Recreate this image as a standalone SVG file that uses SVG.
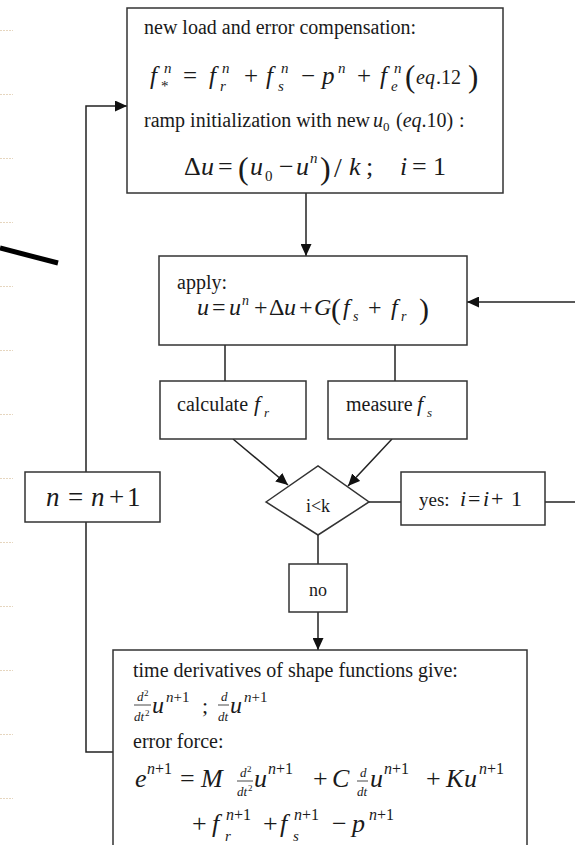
<svg xmlns="http://www.w3.org/2000/svg" width="575" height="845" viewBox="0 0 575 845">
<defs>
<style>
.box{fill:#fff;stroke:#333;stroke-width:1.5}
.c{fill:none;stroke:#222;stroke-width:1.5}
.t{font-family:"Liberation Serif","Times New Roman",serif;fill:#1a1a1a}
.i{font-style:italic}
.u{font-style:normal}
.dash{stroke:#e6d6bf;stroke-width:1.2;stroke-dasharray:2 1}
.bar{stroke:#1a1a1a;stroke-width:0.8}
</style>
<marker id="ah" markerUnits="userSpaceOnUse" markerWidth="13" markerHeight="11" refX="12" refY="5.5" orient="auto">
<path d="M0,0 L12,5.5 L0,11 z" fill="#111"/>
</marker>
</defs>
<rect width="575" height="845" fill="#fff"/>
<g id="margin-marks">
<line class="dash" x1="0" y1="30.5" x2="13" y2="30.5"/>
<line class="dash" x1="0" y1="94.5" x2="13" y2="94.5"/>
<line class="dash" x1="0" y1="158.5" x2="13" y2="158.5"/>
<line class="dash" x1="0" y1="222.5" x2="13" y2="222.5"/>
<line class="dash" x1="0" y1="286.5" x2="13" y2="286.5"/>
<line class="dash" x1="0" y1="350.5" x2="13" y2="350.5"/>
<line class="dash" x1="0" y1="414.5" x2="13" y2="414.5"/>
<line class="dash" x1="0" y1="478.5" x2="13" y2="478.5"/>
<line class="dash" x1="0" y1="542.5" x2="13" y2="542.5"/>
<line class="dash" x1="0" y1="606.5" x2="13" y2="606.5"/>
<line class="dash" x1="0" y1="670.5" x2="13" y2="670.5"/>
<line class="dash" x1="0" y1="734.5" x2="13" y2="734.5"/>
<line class="dash" x1="0" y1="798.5" x2="13" y2="798.5"/>
<line x1="0" y1="248" x2="58" y2="263" stroke="#000" stroke-width="5"/>
</g>
<g id="connectors">
<line class="c" x1="306" y1="193" x2="306" y2="256" marker-end="url(#ah)"/>
<line class="c" x1="575" y1="302" x2="467" y2="302" marker-end="url(#ah)"/>
<line class="c" x1="225" y1="345" x2="225" y2="381"/>
<line class="c" x1="395" y1="345" x2="395" y2="381"/>
<line class="c" x1="233" y1="439" x2="288" y2="485" marker-end="url(#ah)"/>
<line class="c" x1="392" y1="439" x2="348" y2="486" marker-end="url(#ah)"/>
<line class="c" x1="369" y1="502" x2="401" y2="502"/>
<line class="c" x1="545" y1="502" x2="575" y2="502"/>
<line class="c" x1="318" y1="535" x2="318" y2="564"/>
<line class="c" x1="318" y1="612" x2="318" y2="650" marker-end="url(#ah)"/>
<polyline class="c" points="113,752 86,752 86,522"/>
<polyline class="c" points="86,472 86,106 127,106" marker-end="url(#ah)"/>
</g>
<g id="init">
<rect class="box" x="127" y="8" width="376" height="185"/>
<text class="t" x="144" y="34" font-size="20">new load and error compensation:</text>
<text class="t i" font-size="25">
<tspan x="150" y="84">f</tspan><tspan x="161" y="91" font-size="15" class="u">*</tspan><tspan x="164" y="73" font-size="15">n</tspan>
<tspan x="183" y="84" class="u">=</tspan>
<tspan x="209" y="84">f</tspan><tspan x="220" y="91" font-size="15">r</tspan><tspan x="222" y="73" font-size="15">n</tspan>
<tspan x="244" y="84" class="u">+</tspan>
<tspan x="266" y="84">f</tspan><tspan x="278" y="91" font-size="15">s</tspan><tspan x="281" y="73" font-size="15">n</tspan>
<tspan x="301" y="84" class="u">−</tspan>
<tspan x="322" y="84">p</tspan><tspan x="338" y="73" font-size="15">n</tspan>
<tspan x="357" y="84" class="u">+</tspan>
<tspan x="380" y="84">f</tspan><tspan x="391" y="91" font-size="15">e</tspan><tspan x="394" y="73" font-size="15">n</tspan>
<tspan x="405" y="87" font-size="31" class="u">(</tspan><tspan x="416" y="84" font-size="20">eq</tspan><tspan x="436" y="84" font-size="20" class="u">.12</tspan><tspan x="468" y="87" font-size="31" class="u">)</tspan>
</text>
<text class="t" font-size="20"><tspan x="144" y="127">ramp initialization with new</tspan><tspan x="373" y="127" class="i" font-size="20">u</tspan><tspan x="383" y="131" font-size="13">0</tspan><tspan x="396" y="127">(</tspan><tspan class="i">eq</tspan><tspan>.10)</tspan><tspan x="459" y="127">:</tspan></text>
<text class="t i" font-size="26">
<tspan x="184" y="175" class="u">Δ</tspan><tspan x="201" y="175">u</tspan><tspan x="218" y="175" class="u">=</tspan>
<tspan x="238" y="179" font-size="32" class="u">(</tspan><tspan x="250" y="175">u</tspan><tspan x="265" y="181" font-size="15" class="u">0</tspan>
<tspan x="279" y="175" class="u">−</tspan><tspan x="296" y="175">u</tspan><tspan x="310" y="163" font-size="15">n</tspan>
<tspan x="320" y="179" font-size="32" class="u">)</tspan></text>
<text class="t i" font-size="26"><tspan x="334" y="177" font-size="28" class="u">/</tspan><tspan x="349" y="175">k</tspan><tspan x="366" y="175" class="u">;</tspan>
<tspan x="400" y="175">i</tspan><tspan x="412" y="175" class="u">=</tspan><tspan x="433" y="175" class="u">1</tspan>
</text>
</g>
<g id="apply">
<rect class="box" x="159" y="256" width="308" height="89"/>
<text class="t" x="177" y="289" font-size="20">apply:</text>
<text class="t i" font-size="24">
<tspan x="197" y="315">u</tspan><tspan x="212" y="315" class="u">=</tspan><tspan x="229" y="315">u</tspan><tspan x="242" y="305" font-size="14">n</tspan>
<tspan x="254" y="315" class="u">+</tspan><tspan x="269" y="315" class="u">Δ</tspan><tspan x="284" y="315">u</tspan>
<tspan x="299" y="315" class="u">+</tspan><tspan x="314" y="315">G</tspan><tspan x="331" y="319" font-size="30" class="u">(</tspan>
<tspan x="343" y="315">f</tspan><tspan x="353" y="321" font-size="14">s</tspan><tspan x="368" y="315" class="u">+</tspan>
<tspan x="391" y="315">f</tspan><tspan x="401" y="321" font-size="14">r</tspan><tspan x="419" y="319" font-size="30" class="u">)</tspan>
</text>
</g>
<g id="calc">
<rect class="box" x="160" y="381" width="146" height="58"/>
<text class="t" font-size="20"><tspan x="177" y="411">calculate</tspan><tspan x="254" y="411" class="i" font-size="22">f</tspan><tspan x="264" y="417" class="i" font-size="13">r</tspan></text>
</g>
<g id="measure">
<rect class="box" x="328" y="381" width="139" height="58"/>
<text class="t" font-size="20"><tspan x="346" y="411">measure</tspan><tspan x="417" y="411" class="i" font-size="22">f</tspan><tspan x="427" y="417" class="i" font-size="13">s</tspan></text>
</g>
<g id="decision">
<polygon class="box" points="266,502 318,466 369,502 318,535"/>
<text class="t" x="318" y="512" font-size="18" text-anchor="middle">i&lt;k</text>
</g>
<g id="yes">
<rect class="box" x="401" y="472" width="144" height="53"/>
<text class="t" font-size="19"><tspan x="419" y="506">yes:</tspan><tspan x="460" y="506" class="i" font-size="22">i</tspan><tspan x="468" y="506" font-size="22">=</tspan><tspan x="483" y="506" class="i" font-size="22">i</tspan><tspan x="491" y="506" font-size="22">+</tspan><tspan x="511" y="506" font-size="22">1</tspan></text>
</g>
<g id="increment">
<rect class="box" x="25" y="472" width="135" height="50"/>
<text class="t" font-size="27"><tspan x="46" y="506" class="i">n</tspan><tspan x="68" y="506">=</tspan><tspan x="91" y="506" class="i">n</tspan><tspan x="109" y="506">+</tspan><tspan x="127" y="506">1</tspan></text>
</g>
<g id="no">
<rect class="box" x="289" y="564" width="58" height="48"/>
<text class="t" x="318" y="596" font-size="18" text-anchor="middle">no</text>
</g>
<g id="error">
<rect class="box" x="113" y="650" width="414" height="210"/>
<text class="t" x="133" y="677" font-size="20">time derivatives of shape functions give:</text>
<text class="t i" font-size="13"><tspan x="137" y="701">d</tspan><tspan x="144" y="696" font-size="9" class="u">2</tspan><tspan x="134" y="721">dt</tspan><tspan x="145" y="716" font-size="9" class="u">2</tspan></text>
<line class="bar" x1="134" y1="705" x2="151" y2="705"/>
<text class="t i" font-size="24"><tspan x="152" y="713">u</tspan><tspan x="166" y="702" font-size="15">n</tspan><tspan font-size="15" class="u">+1</tspan><tspan x="202" y="713" class="u" font-size="22">;</tspan></text>
<text class="t i" font-size="13"><tspan x="221" y="701">d</tspan><tspan x="218" y="721">dt</tspan></text>
<line class="bar" x1="218" y1="705" x2="229" y2="705"/>
<text class="t i" font-size="24"><tspan x="230" y="713">u</tspan><tspan x="244" y="702" font-size="15">n</tspan><tspan font-size="15" class="u">+1</tspan></text>
<text class="t" x="133" y="748" font-size="20">error force:</text>
<text class="t i" font-size="26">
<tspan x="135" y="787">e</tspan><tspan x="147" y="774" font-size="16">n</tspan><tspan font-size="16" class="u">+1</tspan>
<tspan x="180" y="787" class="u">=</tspan><tspan x="201" y="787">M</tspan>
<tspan x="254" y="787">u</tspan><tspan x="268" y="774" font-size="16">n</tspan><tspan font-size="16" class="u">+1</tspan>
<tspan x="313" y="787" class="u">+</tspan><tspan x="332" y="787">C</tspan>
<tspan x="370" y="787">u</tspan><tspan x="384" y="774" font-size="16">n</tspan><tspan font-size="16" class="u">+1</tspan>
<tspan x="426" y="787" class="u">+</tspan><tspan x="446" y="787">K</tspan><tspan x="464" y="787">u</tspan><tspan x="479" y="774" font-size="16">n</tspan><tspan font-size="16" class="u">+1</tspan>
</text>
<text class="t i" font-size="13"><tspan x="240" y="777">d</tspan><tspan x="247" y="772" font-size="9" class="u">2</tspan><tspan x="237" y="796">dt</tspan><tspan x="248" y="791" font-size="9" class="u">2</tspan><tspan x="360" y="777">d</tspan><tspan x="357" y="796">dt</tspan></text>
<line class="bar" x1="237" y1="781" x2="253" y2="781"/>
<line class="bar" x1="357" y1="781" x2="368" y2="781"/>
<text class="t i" font-size="26">
<tspan x="192" y="832" class="u">+</tspan><tspan x="212" y="832">f</tspan><tspan x="226" y="820" font-size="16">n</tspan><tspan font-size="16" class="u">+1</tspan><tspan x="225" y="841" font-size="15">r</tspan>
<tspan x="263" y="832" class="u">+</tspan><tspan x="280" y="832">f</tspan><tspan x="294" y="820" font-size="16">n</tspan><tspan font-size="16" class="u">+1</tspan><tspan x="293" y="841" font-size="15">s</tspan>
<tspan x="332" y="832" class="u">−</tspan><tspan x="352" y="832">p</tspan><tspan x="369" y="820" font-size="16">n</tspan><tspan font-size="16" class="u">+1</tspan>
</text>
</g>
</svg>
